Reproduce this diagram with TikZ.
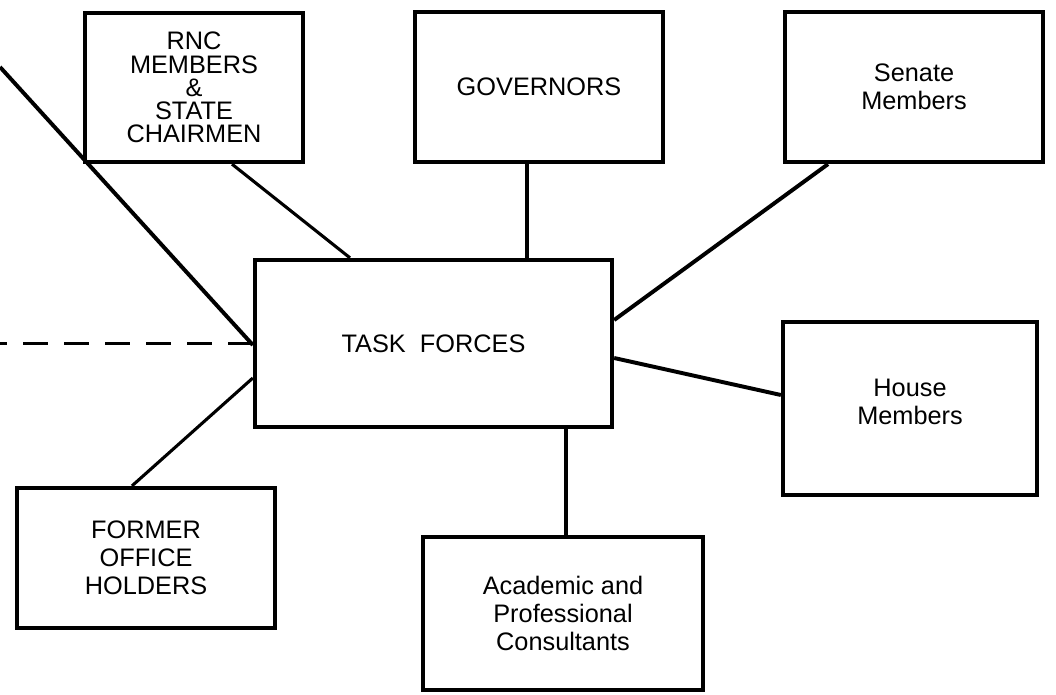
\documentclass[tikz,border=0pt]{standalone}
\usepackage{fontspec}
\setmainfont{Liberation Sans}
\usetikzlibrary{calc}

\begin{document}
\begin{tikzpicture}[x=0.025cm,y=-0.025cm,
            box/.style={draw,line width=3pt,inner sep=0pt,align=center,
                font=\fontsize{18}{20}\selectfont},
            link/.style={line width=2.2pt},
            heavylink/.style={line width=2.8pt}]
            \useasboundingbox (0,0) rectangle (1056,695);

            \node[box,minimum width=5.45cm,minimum height=3.725cm,
                font=\fontsize{18}{16.5}\selectfont] (rnc) at (194,87.5)
                {RNC\\MEMBERS\\\&\\STATE\\CHAIRMEN};
            \node[box,minimum width=6.2cm,minimum height=3.75cm] (gov) at (539,87) {GOVERNORS};
            \node[box,minimum width=6.45cm,minimum height=3.75cm] (senate) at (914,87) {Senate\\Members};
            \node[box,minimum width=8.925cm,minimum height=4.175cm] (task) at (433.5,343.5) {TASK\ \ FORCES};
            \node[box,minimum width=6.35cm,minimum height=4.325cm,text depth=9pt] (house) at (910,408.5) {House\\Members};
            \node[box,minimum width=6.45cm,minimum height=3.5cm] (former) at (146,558) {FORMER\\OFFICE\\HOLDERS};
            \node[box,minimum width=7cm,minimum height=3.825cm] (acad) at (563,613.5)
                {Academic and\\Professional\\Consultants};

            \coordinate (offtop) at (0,67);
            \coordinate (offleft) at (0,343.5);
            \coordinate (govfoot) at ($(gov.south)+(-12,0)$);
            \coordinate (taskfoot) at ($(task.south)+(132.5,0)$);

            \draw[heavylink] (offtop) -- ($(task.west)+(0,1.5)$);
            \draw[link,dash pattern=on 0.625cm off 0.4cm] (task.west) -- (offleft);

            \draw[link] ($(rnc.south)+(38,0)$) -- ($(task.north)+(-83.5,0)$);
            \draw[link] (govfoot) -- (govfoot |- task.north);
            \draw[heavylink] ($(senate.south)+(-86,0)$) -- ($(task.east)+(0,-23.5)$);
            \draw[heavylink] ($(task.east)+(0,14.5)$) -- ($(house.west)+(0,-13.5)$);
            \draw[link] (taskfoot) -- (taskfoot |- acad.north);
            \draw[link] ($(former.north)+(-14,0)$) -- ($(task.west)+(0,34.5)$);
        \end{tikzpicture}
\end{document}
